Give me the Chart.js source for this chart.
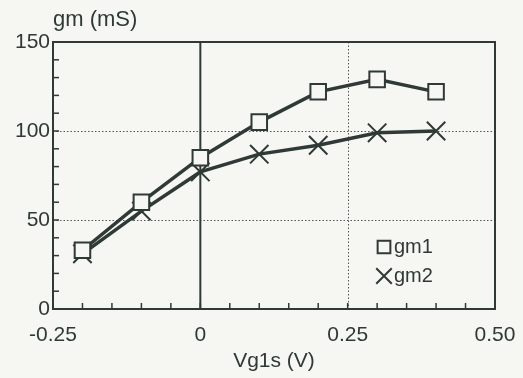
<!DOCTYPE html>
<html>
<head>
<meta charset="utf-8">
<script src="https://cdn.jsdelivr.net/npm/chart.js@4"></script>
<style>
  html, body { margin: 0; padding: 0; background: #f6f6f3; }
  #wrap { width: 523px; height: 378px; }
</style>
</head>
<body>
<div id="wrap"><canvas id="gmChart"></canvas></div>
<script>
// data
const vg1s = [-0.2, -0.1, 0, 0.1, 0.2, 0.3, 0.4];
const gm1 = [33, 60, 85, 105, 122, 129, 122];
const gm2 = [31, 55, 77, 87, 92, 99, 100];
const xTickLabels = ["-0.25", "0", "0.25", "0.50"];
const yTickLabels = ["0", "50", "100", "150"];

const ink = '#2f3935';
const font = '"Liberation Sans", Arial, sans-serif';

function pts(ys){
    return vg1s.map((x, i) => ({x: x, y: ys[i]}));
}

// box, grid lines and inward minor ticks
const frame = {
    id: 'frame',
    beforeDatasetsDraw(chart){
        const ctx = chart.ctx;
        const a = chart.chartArea;
        const xs = chart.scales.x, ys = chart.scales.y;
        ctx.save();
        ctx.strokeStyle = '#555';
        ctx.lineWidth = 1;
        ctx.setLineDash([1.5, 2]);
        [50, 100].forEach(v => {
            const y = Math.round(ys.getPixelForValue(v)) + 0.5;
            ctx.beginPath(); ctx.moveTo(a.left, y); ctx.lineTo(a.right, y); ctx.stroke();
        });
        const xq = Math.round(xs.getPixelForValue(0.25)) + 0.5;
        ctx.beginPath(); ctx.moveTo(xq, a.top); ctx.lineTo(xq, a.bottom); ctx.stroke();
        ctx.setLineDash([]);
        ctx.strokeStyle = ink;
        ctx.lineWidth = 2;
        const x0 = xs.getPixelForValue(0);
        ctx.beginPath(); ctx.moveTo(x0, a.top); ctx.lineTo(x0, a.bottom); ctx.stroke();
        ctx.strokeRect(a.left, a.top, a.right - a.left, a.bottom - a.top);
        ctx.lineWidth = 1.5;
        for (let i = 1; i < 15; i++) {
            const x = xs.getPixelForValue(-0.25 + i * 0.05);
            ctx.beginPath(); ctx.moveTo(x, a.bottom); ctx.lineTo(x, a.bottom - 6); ctx.stroke();
        }
        for (let v = 10; v < 150; v += 10) {
            const y = ys.getPixelForValue(v);
            ctx.beginPath(); ctx.moveTo(a.left, y); ctx.lineTo(a.left + 6, y); ctx.stroke();
        }
        ctx.restore();
    },
    afterDraw(chart){
        const ctx = chart.ctx;
        const a = chart.chartArea;
        ctx.save();
        ctx.fillStyle = ink;
        ctx.textBaseline = 'middle';
        ctx.font = '22px ' + font;
        ctx.fillText('gm (mS)', a.left, 20);
        // legend
        ctx.font = '20px ' + font;
        const lx = 384, items = [['gm1', 'rect', 9], ['gm2', 'crossRot', 11]];
        items.forEach((it, i) => {
            const y = 247 + i * 29;
            ctx.strokeStyle = ink;
            ctx.fillStyle = 'rgba(0,0,0,0)';
            ctx.lineWidth = 2;
            Chart.helpers.drawPoint(ctx, {pointStyle: it[1], radius: it[2], borderWidth: 2}, lx, y);
            ctx.fillStyle = ink;
            ctx.fillText(it[0], lx + 10, y);
        });
        ctx.restore();
    }
};

const data = {
    datasets: [{
        label: 'gm1',
        data: pts(gm1),
        borderColor: ink,
        borderWidth: 3.5,
        pointStyle: 'rect',
        pointRadius: 11,
        pointBorderWidth: 2,
        pointBackgroundColor: '#f6f6f3',
        pointBorderColor: ink
    }, {
        label: 'gm2',
        data: pts(gm2),
        borderColor: ink,
        borderWidth: 3.5,
        pointStyle: 'crossRot',
        pointRadius: 13,
        pointBorderWidth: 2,
        pointBorderColor: ink
    }]
};

const config = {
    type: 'line',
    data: data,
    options: {
        responsive: true,
        maintainAspectRatio: false,
        animation: false,
        layout: { padding: { top: 42, right: 28, left: 0, bottom: 0 } },
        plugins: { legend: { display: false }, tooltip: { enabled: false } },
        scales: {
            x: {
                type: 'linear',
                min: -0.25, max: 0.5,
                grid: { display: false, drawTicks: false },
                border: { display: false },
                afterBuildTicks(scale){
                    scale.ticks = [-0.25, 0, 0.25, 0.5].map(v => ({value: v}));
                },
                afterFit(scale){
                    scale.height = 69;
                    scale.paddingLeft = 0;
                    scale.paddingRight = 0;
                },
                ticks: {
                    color: ink,
                    padding: 14,
                    maxRotation: 0,
                    font: { family: font, size: 21 },
                    callback: (v, i) => xTickLabels[i]
                },
                title: {
                    display: true,
                    text: 'Vg1s (V)',
                    color: ink,
                    padding: { top: 0, bottom: 4 },
                    font: { family: font, size: 21 }
                }
            },
            y: {
                min: 0, max: 150,
                grid: { display: false, drawTicks: false },
                border: { display: false },
                afterBuildTicks(scale){
                    scale.ticks = [0, 50, 100, 150].map(v => ({value: v}));
                },
                afterFit(scale){
                    scale.width = 53;
                    scale.paddingTop = 0;
                    scale.paddingBottom = 0;
                },
                ticks: {
                    color: ink,
                    padding: 3,
                    font: { family: font, size: 21 },
                    callback: (v, i) => yTickLabels[i]
                }
            }
        }
    },
    plugins: [frame]
};

const chart = new Chart(document.getElementById('gmChart').getContext('2d'), config);
</script>
</body>
</html>
